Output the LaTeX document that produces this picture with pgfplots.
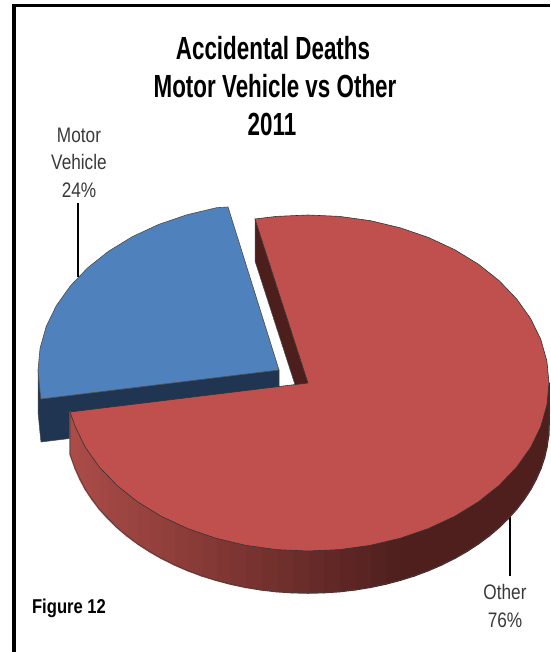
\documentclass[border=0pt]{standalone}
\usepackage{fontspec}
\setmainfont{Liberation Sans}
\usepackage{graphicx}
\usepackage{pgfplots}
\pgfplotsset{compat=1.18}
\definecolor{redtop}{HTML}{C0504D}
\definecolor{bluetop}{HTML}{4F81BD}
\definecolor{redwall}{HTML}{4C1E1C}
\definecolor{bluewall}{HTML}{1F3552}
\definecolor{lbl}{HTML}{3A3A3A}
\pgfplotstableread{
x y
549 383
548.5 394
546.9 404.9
544.4 415.8
540.8 426.5
536.2 437
530.7 447.3
524.1 457.3
516.7 467
508.4 476.3
499.2 485.3
489.2 493.8
478.4 501.8
466.9 509.3
454.7 516.3
441.9 522.7
428.5 528.5
414.6 533.7
400.2 538.2
385.5 542.1
370.4 545.3
355 547.8
339.5 549.6
323.8 550.6
308 551
292.2 550.6
276.5 549.6
261 547.8
245.6 545.3
230.5 542.1
215.8 538.2
201.4 533.7
187.5 528.5
174.1 522.7
161.3 516.3
149.1 509.3
137.6 501.8
126.8 493.8
116.8 485.3
107.6 476.3
99.3 467
91.9 457.3
85.3 447.3
79.8 437
75.2 426.5
70 412
549 425
548.5 436
546.9 446.9
544.4 457.8
540.8 468.5
536.2 479
530.7 489.3
524.1 499.3
516.7 509
508.4 518.3
499.2 527.3
489.2 535.8
478.4 543.8
466.9 551.3
454.7 558.3
441.9 564.7
428.5 570.5
414.6 575.7
400.2 580.2
385.5 584.1
370.4 587.3
355 589.8
339.5 591.6
323.8 592.6
308 593
292.2 592.6
276.5 591.6
261 589.8
245.6 587.3
230.5 584.1
215.8 580.2
201.4 575.7
187.5 570.5
174.1 564.7
161.3 558.3
149.1 551.3
137.6 543.8
126.8 535.8
116.8 527.3
107.6 518.3
99.3 509
91.9 499.3
85.3 489.3
79.8 479
75.2 468.5
70 454
}\redside
\begin{document}
\begin{tikzpicture}
\begin{axis}[
  scale only axis, width=550pt, height=652pt,
  xmin=0, xmax=550, ymin=0, ymax=652, y dir=reverse,
  hide axis, clip=true,
  colormap={wall}{rgb255(0cm)=(172,76,72); rgb255(33cm)=(78,31,29); rgb255(48cm)=(78,31,29)},
  point meta min=70, point meta max=550,
]
% page background keeps the full 550 x 652 picture
\addplot[fill=white, draw=none, forget plot] coordinates {(0,0) (550,0) (550,652) (0,652)} --cycle;
% frame
\addplot[black, line width=3.6pt, line join=miter, forget plot] coordinates {(14,652) (14,5.7) (550,5.7)};
% blue wedge: walls, then face
\addplot[fill=bluewall, draw=black!70, line width=.5pt, forget plot] coordinates {(38,370) (40.1,391.9) (41,399) (279,370) (279,413) (41,442) (40.1,434) (38,412)} --cycle;
\addplot[fill=bluetop, draw=black!70, line width=.6pt, forget plot] coordinates {
(228,207) (216.6,207.7) (186.8,214.8) (158.5,224.5) (132.3,236.7) (108.6,251.2) (87.8,267.7) (70.3,286) (56.3,305.7) (46.2,326.5) (40.1,348.1) (38,370) (40.1,391.9) (41,399) (279,370)} --cycle;
% leader lines
\addplot[black, line width=1.1pt, forget plot] coordinates {(78,203) (78,277)};
\addplot[black, line width=1.3pt, forget plot] coordinates {(510,517) (510,576)};
% red inner wall
\addplot[fill=redwall, draw=black!70, line width=.5pt, forget plot] coordinates {(255,219) (308,383) (308,425) (255,261)} --cycle;
% red outer wall
\addplot[surf, shader=flat, mesh/rows=2, point meta=x, line width=1.5pt, line join=round, forget plot] table[x=x,y=y] {\redside};
\addplot[draw=black!75, line width=.5pt, forget plot] coordinates {
(549,383) (549,425) (546.9,446.9) (540.8,468.5) (530.7,489.3) (516.7,509) (499.2,527.3) (478.4,543.8) (454.7,558.3) (428.5,570.5) (400.2,580.2) (370.4,587.3) (339.5,591.6) (308,593) (276.5,591.6) (245.6,587.3) (215.8,580.2) (187.5,570.5) (161.3,558.3) (137.6,543.8) (116.8,527.3) (99.3,509) (85.3,489.3) (75.2,468.5) (70,454) (70,412)};
% red face
\addplot[fill=redtop, draw=black!80, line width=.6pt, forget plot] coordinates {
(255,219) (276.5,216.4) (308,215) (339.5,216.4) (370.4,220.7) (400.2,227.8) (428.5,237.5) (454.7,249.7) (478.4,264.2) (499.2,280.7) (516.7,299) (530.7,318.7) (540.8,339.5) (546.9,361.1) (549,383) (546.9,404.9) (540.8,426.5) (530.7,447.3) (516.7,467) (499.2,485.3) (478.4,501.8) (454.7,516.3) (428.5,528.5) (400.2,538.2) (370.4,545.3) (339.5,549.6) (308,551) (276.5,549.6) (245.6,545.3) (215.8,538.2) (187.5,528.5) (161.3,516.3) (137.6,501.8) (116.8,485.3) (99.3,467) (85.3,447.3) (75.2,426.5) (70,412) (308,383)} --cycle;
% title
\node[anchor=base,inner sep=0pt,text=black] at (axis cs:273,60) {\scalebox{.70}[1]{\fontsize{32}{36}\selectfont\bfseries Accidental Deaths}};
\node[anchor=base,inner sep=0pt,text=black] at (axis cs:275,98) {\scalebox{.70}[1]{\fontsize{32}{36}\selectfont\bfseries Motor Vehicle vs Other}};
\node[anchor=base,inner sep=0pt,text=black] at (axis cs:272,136) {\scalebox{.70}[1]{\fontsize{32}{36}\selectfont\bfseries 2011}};
% labels
\node[anchor=base,inner sep=0pt,text=lbl] at (axis cs:79,143) {\scalebox{.82}[1]{\fontsize{21}{24}\selectfont Motor}};
\node[anchor=base,inner sep=0pt,text=lbl] at (axis cs:79,170) {\scalebox{.82}[1]{\fontsize{21}{24}\selectfont Vehicle}};
\node[anchor=base,inner sep=0pt,text=lbl] at (axis cs:79,197) {\scalebox{.82}[1]{\fontsize{21}{24}\selectfont 24\%}};
\node[anchor=base,inner sep=0pt,text=lbl] at (axis cs:505,599) {\scalebox{.82}[1]{\fontsize{21}{24}\selectfont Other}};
\node[anchor=base,inner sep=0pt,text=lbl] at (axis cs:505,627) {\scalebox{.82}[1]{\fontsize{21}{24}\selectfont 76\%}};
\node[anchor=base,inner sep=0pt,text=black] at (axis cs:69,613) {\scalebox{.83}[1]{\fontsize{20}{24}\selectfont\bfseries Figure 12}};
\end{axis}
\end{tikzpicture}
\end{document}
